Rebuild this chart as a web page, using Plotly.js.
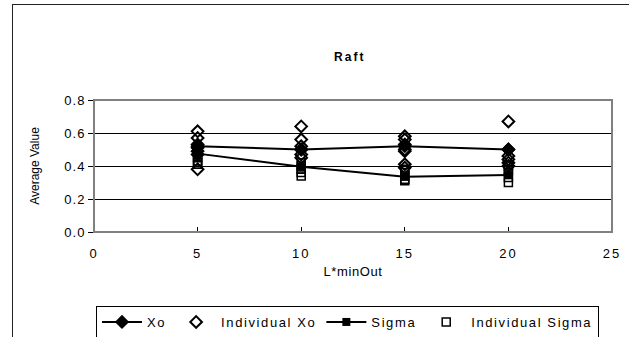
<!DOCTYPE html>
<html>
<head>
<meta charset="utf-8">
<script src="https://cdn.plot.ly/plotly-3.0.1.min.js"></script>
<style>
  html, body { margin: 0; padding: 0; background: #fff; }
  #wrap { position: relative; width: 629px; height: 337px; overflow: hidden; }
  #chart { width: 629px; height: 337px; }
  #frame { position: absolute; left: 12px; top: 4px; width: 700px; height: 400px;
           border: 1px solid #222; pointer-events: none; box-sizing: border-box; }
  /* widely tracked lettering, as in spreadsheet-style charts */
  .legendtext { letter-spacing: 1.6px; }
  .xtick text { letter-spacing: 2px; }
  .ytick text { letter-spacing: 1px; }
  .gtitle { letter-spacing: 2px; }
  .xtitle { letter-spacing: 0.6px; }
</style>
</head>
<body>
<div id="wrap">
  <div id="chart"></div>
  <div id="frame"></div>
</div>
<script>
// Run lengths (L*minOut)
const runLengths = [5, 10, 15, 20];

// Mean values per run length
const xoMean = [0.52, 0.50, 0.52, 0.50];
const sigmaMean = [0.475, 0.395, 0.335, 0.345];

// Individual replicate values
const indivXoX = [5, 5, 5, 5, 5, 5, 5,
                  10, 10, 10, 10, 10, 10,
                  15, 15, 15, 15, 15, 15, 15,
                  20, 20, 20, 20, 20, 20];
const indivXoY = [0.61, 0.57, 0.53, 0.51, 0.49, 0.47, 0.38,
                  0.64, 0.56, 0.52, 0.50, 0.47, 0.45,
                  0.58, 0.56, 0.53, 0.50, 0.49, 0.41, 0.39,
                  0.67, 0.50, 0.46, 0.44, 0.42, 0.40];

const indivSigmaX = [5, 5, 5, 5, 5, 5,
                     10, 10, 10, 10, 10,
                     15, 15, 15, 15, 15,
                     20, 20, 20, 20, 20];
const indivSigmaY = [0.50, 0.47, 0.45, 0.43, 0.42, 0.41,
                     0.42, 0.40, 0.38, 0.36, 0.34,
                     0.38, 0.36, 0.34, 0.32, 0.31,
                     0.40, 0.38, 0.36, 0.33, 0.30];

const xTicks = [0, 5, 10, 15, 20, 25];
const yTicks = [0.0, 0.2, 0.4, 0.6, 0.8];

const FONT = 'Liberation Sans, Arial, sans-serif';

const traces = [
  {
    name: 'Xo', x: runLengths, y: xoMean, type: 'scatter', mode: 'lines+markers',
    line: { color: '#000', width: 2 },
    marker: { symbol: 'diamond', size: 11, color: '#000' }
  },
  {
    name: 'Individual Xo', x: indivXoX, y: indivXoY, type: 'scatter', mode: 'markers',
    marker: { symbol: 'diamond-open', size: 9, color: '#000', line: { width: 2, color: '#000' } }
  },
  {
    name: 'Sigma', x: runLengths, y: sigmaMean, type: 'scatter', mode: 'lines+markers',
    line: { color: '#000', width: 2 },
    marker: { symbol: 'square', size: 8, color: '#000' }
  },
  {
    name: 'Individual Sigma', x: indivSigmaX, y: indivSigmaY, type: 'scatter', mode: 'markers',
    marker: { symbol: 'square-open', size: 8, color: '#000', line: { width: 1.5, color: '#000' } }
  }
];

const layout = {
  width: 629, height: 337,
  margin: { l: 94, r: 17, t: 100, b: 105, autoexpand: false },
  paper_bgcolor: '#fff', plot_bgcolor: '#fff',
  font: { family: FONT, color: '#000', size: 13 },
  title: {
    text: '<b>Raft</b>', font: { family: FONT, size: 12, color: '#000' },
    xref: 'container', yref: 'container',
    x: 0.556, xanchor: 'center', y: 1 - 57 / 337, yanchor: 'middle'
  },
  showlegend: true,
  legend: {
    orientation: 'h', xref: 'container', yref: 'container',
    x: 96 / 629, xanchor: 'left', y: 1 - 306 / 337, yanchor: 'top',
    bordercolor: '#000', borderwidth: 1, bgcolor: '#fff',
    font: { family: FONT, size: 13, color: '#000' },
    tracegroupgap: 0, itemwidth: 40
  },
  xaxis: {
    range: [0, 25], tickvals: xTicks, ticktext: xTicks.map(String),
    showgrid: false, zeroline: false, showline: false,
    ticks: 'inside', ticklen: 5, tickcolor: '#000', tickwidth: 1,
    ticklabelstandoff: 12,
    tickfont: { family: FONT, size: 13, color: '#000' },
    title: { text: 'L*minOut', font: { family: FONT, size: 13, color: '#000' }, standoff: 6 }
  },
  yaxis: {
    range: [0, 0.8], tickvals: yTicks, ticktext: yTicks.map(v => v.toFixed(1)),
    showgrid: true, gridcolor: '#000', gridwidth: 1, zeroline: false,
    showline: true, linecolor: '#000', linewidth: 1,
    ticks: 'outside', ticklen: 5, tickcolor: '#000', tickwidth: 1,
    tickfont: { family: FONT, size: 13, color: '#000' },
    title: { text: 'Average Value', font: { family: FONT, size: 12, color: '#000' }, standoff: 22 }
  },
  shapes: [
    { type: 'rect', xref: 'paper', yref: 'paper', x0: 0, x1: 1, y0: 0, y1: 1,
      line: { color: '#808080', width: 2 }, layer: 'above' }
  ]
};

Plotly.newPlot('chart', traces, layout, { displayModeBar: false, staticPlot: true });
</script>
</body>
</html>
